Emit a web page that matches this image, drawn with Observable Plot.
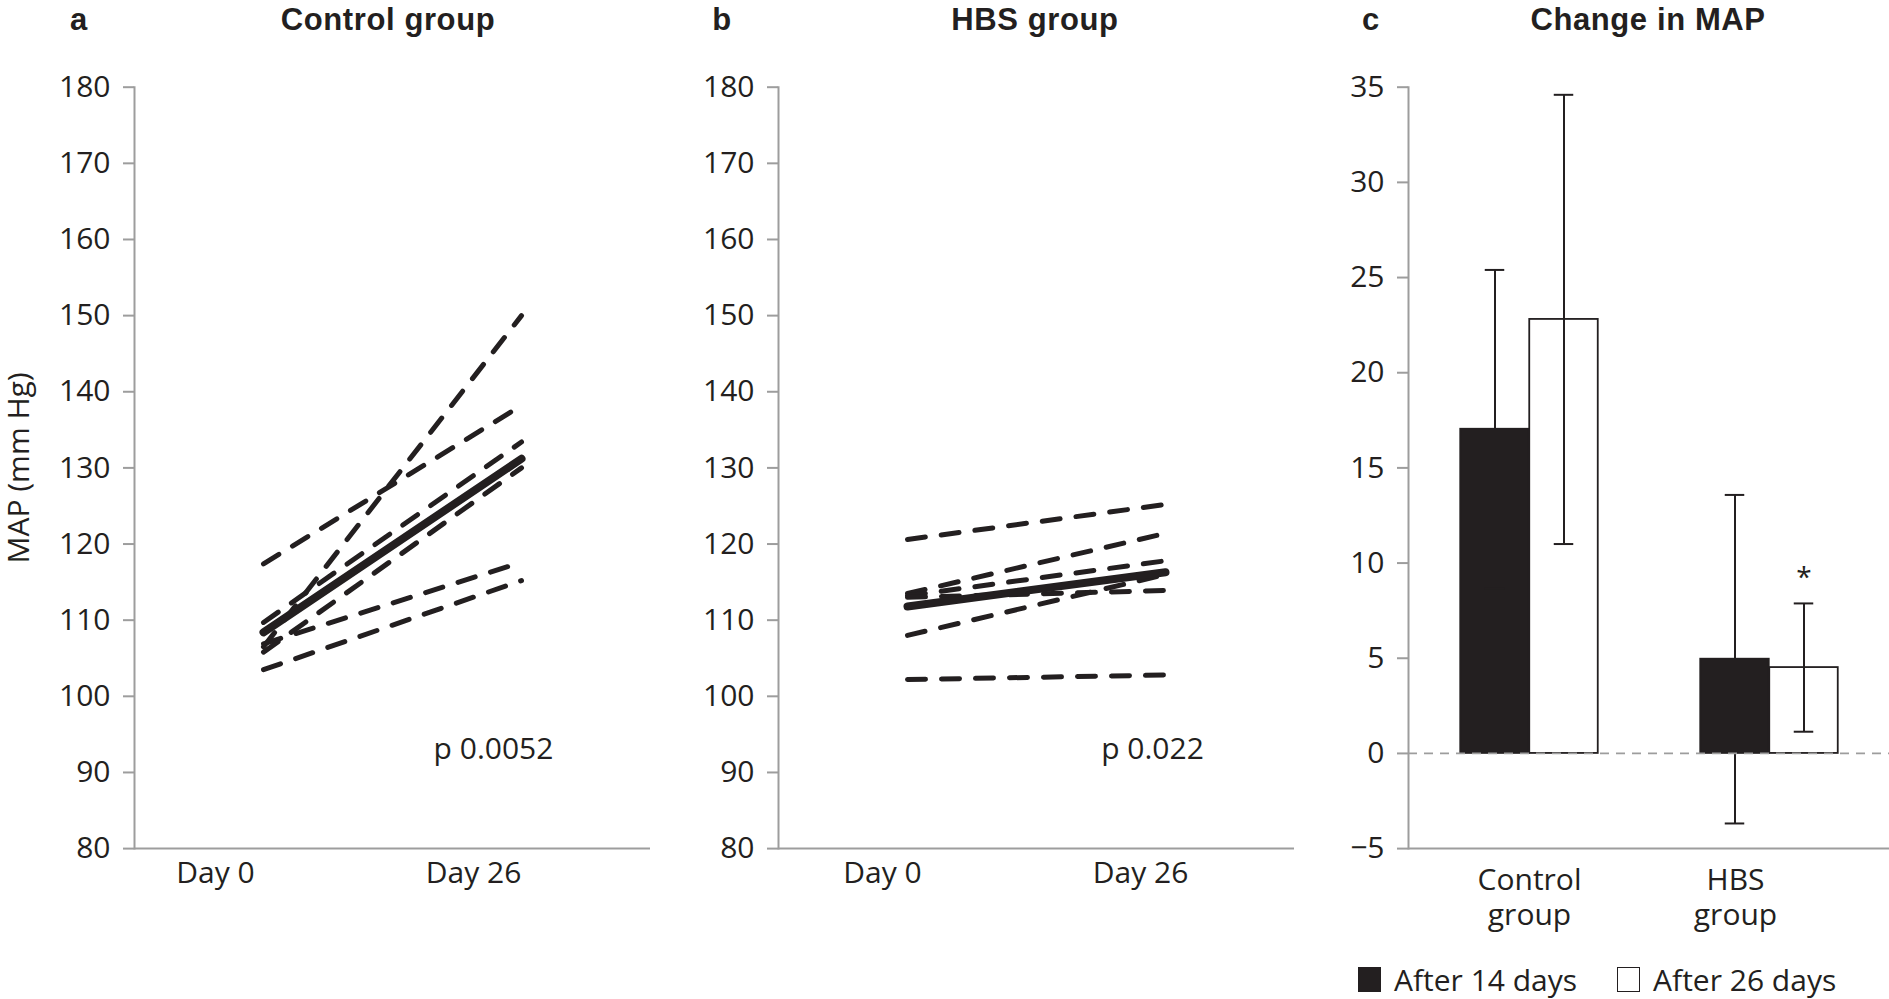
<!DOCTYPE html>
<html>
<head>
<meta charset="utf-8">
<script src="https://cdn.jsdelivr.net/npm/d3@7"></script>
<script src="https://cdn.jsdelivr.net/npm/@observablehq/plot@0.6"></script>
<style>
  html, body { margin: 0; padding: 0; background: #fff; }
  #root { position: relative; width: 1889px; height: 999px; overflow: hidden; background: #fff; font-family: "Open Sans", sans-serif; color: #231f20; }
  .panel { position: absolute; top: 0; }
  .ttl { position: absolute; top: 3px; font-family: "Liberation Sans", Arial, sans-serif; font-weight: bold; font-size: 31px; line-height: 1.1; white-space: nowrap; transform: translateX(-50%); letter-spacing: 0.6px; color: #231f20; }
  .legend { position: absolute; left: 1358px; top: 963px; display: flex; align-items: center; font-size: 30px; line-height: 1.1; white-space: nowrap; }
  .sw { display: inline-block; width: 23px; height: 25px; box-sizing: border-box; border: 1.5px solid #231f20; margin-right: 13px; }
</style>
</head>
<body>
<div id="root">
  <div class="ttl" style="left:79px">a</div>
  <div class="ttl" style="left:388px">Control group</div>
  <div class="ttl" style="left:722px">b</div>
  <div class="ttl" style="left:1035px">HBS group</div>
  <div class="ttl" style="left:1371px">c</div>
  <div class="ttl" style="left:1648px">Change in MAP</div>
  <div class="legend">
    <span class="sw" style="background:#231f20"></span><span id="lg14"></span>
    <span class="sw" style="background:#fff; margin-left:40px"></span><span id="lg26"></span>
  </div>
</div>
<script>
// ---------- data ----------
const days = ["Day 0", "Day 26"];
const mapTicks = [80, 90, 100, 110, 120, 130, 140, 150, 160, 170, 180];
const yLabel = "MAP (mm Hg)";

const controlDay0  = [117.4, 109.7, 106.5, 105.8, 106.9, 103.5];
const controlDay26 = [138.2, 133.4, 150.0, 130.0, 117.6, 115.2];
const controlMean  = [108.4, 131.2];
const controlP = "p 0.0052";

const hbsDay0  = [120.6, 113.5, 113.2, 113.0, 108.0, 102.2];
const hbsDay26 = [125.2, 121.4, 117.8, 113.9, 116.0, 102.8];
const hbsMean  = [111.8, 116.3];
const hbsP = "p 0.022";

const changeGroups = ["Control group", "HBS group"];
const changeGroupLabels = ["Control\ngroup", "HBS\ngroup"];
const periods = ["After 14 days", "After 26 days"];
const after14Mean = [17.03, 4.95];
const after14SD   = [8.37, 8.63];
const after26Mean = [22.8, 4.51];
const after26SD   = [11.8, 3.37];
const changeTicks = [-5, 0, 5, 10, 15, 20, 25, 30, 35];
const significant26 = ["HBS group"];

// ---------- styles ----------
const INK = "#231f20";
const AXIS = "#9d9d9d";
const FONT = "Open Sans";

function subjectRows(d0, d26) {
  const rows = [];
  d0.forEach((v, i) => {
    rows.push({subject: i, day: days[0], map: v});
    rows.push({subject: i, day: days[1], map: d26[i]});
  });
  return rows;
}
function meanRows(m) { return m.map((v, i) => ({day: days[i], map: v})); }

function linePanel(d0, d26, mean, pText, labelDx, pDx, withYLabel) {
  const marks = [
    Plot.ruleY([80], {stroke: AXIS, strokeWidth: 2}),
    Plot.frame({anchor: "left", stroke: AXIS, strokeWidth: 2}),
    Plot.axisY({ticks: mapTicks, tickSize: 11, tickPadding: 13, stroke: AXIS, strokeWidth: 2, fill: INK, fontSize: 30, label: null}),
    Plot.axisX({tickSize: 0, tickPadding: 13, dx: labelDx, fill: INK, fontSize: 30, label: null}),
    Plot.line(subjectRows(d0, d26), {x: "day", y: "map", z: "subject", stroke: INK, strokeWidth: 5, strokeDasharray: "18,16"}),
    Plot.line(meanRows(mean), {x: "day", y: "map", stroke: INK, strokeWidth: 8, strokeLinecap: "round"}),
    Plot.text([pText], {text: d => d, frameAnchor: "bottom", lineAnchor: "middle", dx: pDx, dy: -99, fontSize: 30, fill: INK})
  ];
  if (withYLabel) {
    marks.push(Plot.text([yLabel], {text: d => d, frameAnchor: "left", textAnchor: "middle", rotate: -90, dx: -115, fontSize: 30, fill: INK, lineAnchor: "middle"}));
  }
  return Plot.plot({
    width: 660, height: 999,
    marginLeft: 134, marginRight: 10, marginTop: 86.7, marginBottom: 150.9,
    style: {fontFamily: FONT, fontSize: "30px", background: "transparent", overflow: "visible", color: INK},
    x: {type: "point", domain: days, padding: 0.5, label: null},
    y: {domain: [80, 180], label: null},
    marks
  });
}

function changePanel() {
  const rows14 = changeGroups.map((g, i) => ({group: g, mean: after14Mean[i], sd: after14SD[i]}));
  const rows26 = changeGroups.map((g, i) => ({group: g, mean: after26Mean[i], sd: after26SD[i]}));
  const barOpts = {x: "group", y: "mean", insetLeft: 85.75, insetRight: 85.75, strokeWidth: 1.8};
  const errMarks = (rows, dx) => [
    Plot.ruleX(rows, {x: "group", y1: d => d.mean - d.sd, y2: d => d.mean + d.sd, dx, stroke: INK, strokeWidth: 2}),
    Plot.tickY(rows, {x: "group", y: d => d.mean + d.sd, dx, insetLeft: 110.25, insetRight: 110.25, stroke: INK, strokeWidth: 2}),
    Plot.tickY(rows, {x: "group", y: d => d.mean - d.sd, dx, insetLeft: 110.25, insetRight: 110.25, stroke: INK, strokeWidth: 2})
  ];
  return Plot.plot({
    width: 615, height: 999,
    marginLeft: 134, marginRight: 0, marginTop: 86.7, marginBottom: 150.9,
    style: {fontFamily: FONT, fontSize: "30px", background: "transparent", overflow: "visible", color: INK},
    x: {type: "band", domain: changeGroups, padding: 0, label: null, axis: null},
    y: {domain: [-5, 35], label: null},
    marks: [
      Plot.barY(rows14, {...barOpts, dx: -34.5, fill: INK, stroke: INK}),
      Plot.barY(rows26, {...barOpts, dx: 34.5, fill: "#fff", stroke: INK}),
      ...errMarks(rows14, -34.5),
      ...errMarks(rows26, 34.5),
      Plot.ruleY([0], {stroke: AXIS, strokeWidth: 1.8, strokeDasharray: "9,7"}),
      Plot.ruleY([-5], {stroke: AXIS, strokeWidth: 2}),
      Plot.frame({anchor: "left", stroke: AXIS, strokeWidth: 2}),
      Plot.axisY({ticks: changeTicks, tickSize: 11, tickPadding: 13, stroke: AXIS, strokeWidth: 2, fill: INK, fontSize: 30, label: null}),
      Plot.text(rows26.filter(d => significant26.includes(d.group)), {x: "group", y: d => d.mean + d.sd, text: () => "*", dx: 34.5, dy: -25, fontSize: 28, fill: INK, lineAnchor: "middle"}),
      Plot.text([changeGroups[0]], {x: d => d, text: d => changeGroupLabels[changeGroups.indexOf(d)], frameAnchor: "bottom", lineAnchor: "top", dy: 17, lineHeight: 1.15, fontSize: 30, fill: INK}),
      Plot.text([changeGroups[1]], {x: d => d, text: d => changeGroupLabels[changeGroups.indexOf(d)], frameAnchor: "bottom", lineAnchor: "top", dy: 17, dx: -34, lineHeight: 1.15, fontSize: 30, fill: INK})
    ]
  });
}

const root = document.getElementById("root");
function place(svg, left) {
  const wrap = document.createElement("div");
  wrap.className = "panel";
  wrap.style.left = left + "px";
  wrap.appendChild(svg);
  root.appendChild(wrap);
}
place(linePanel(controlDay0, controlDay26, controlMean, controlP, -48, 101, true), 0);
place(linePanel(hbsDay0, hbsDay26, hbsMean, hbsP, -25, 116, false), 644);
place(changePanel(), 1274);
document.getElementById("lg14").textContent = periods[0];
document.getElementById("lg26").textContent = periods[1];
</script>
</body>
</html>
